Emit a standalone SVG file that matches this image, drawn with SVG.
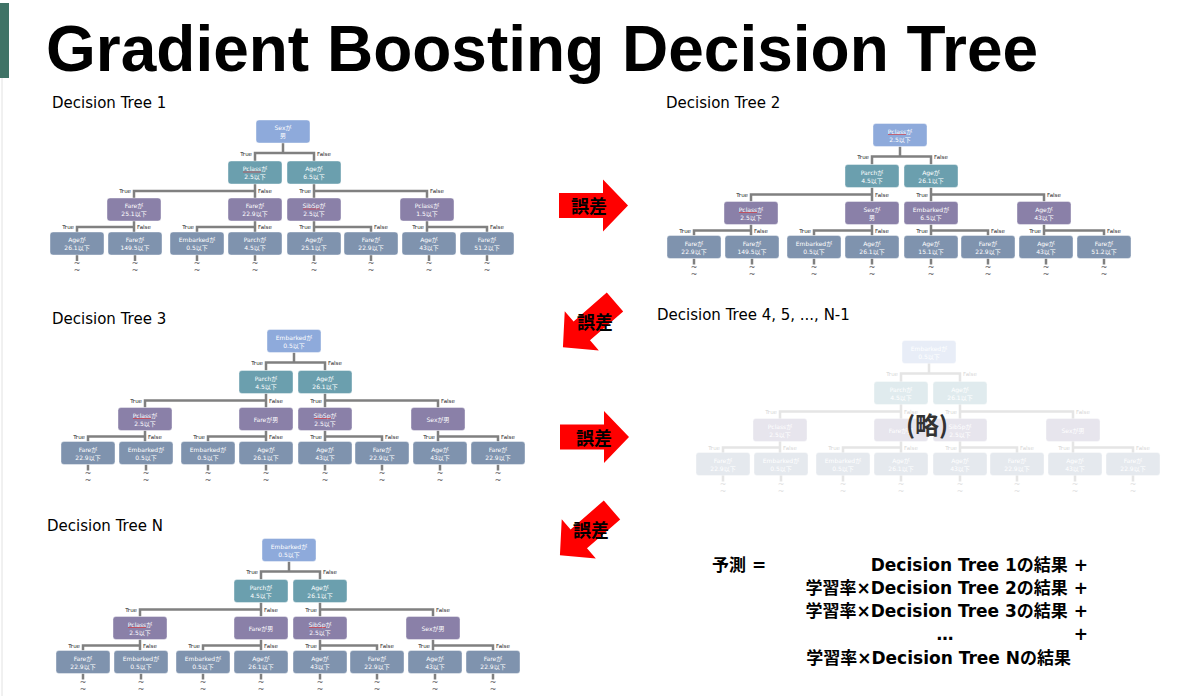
<svg xmlns="http://www.w3.org/2000/svg" xmlns:xlink="http://www.w3.org/1999/xlink" width="1183" height="696" viewBox="0 0 1183 696">
<style>
.nd rect{stroke:#ffffff;stroke-opacity:0.5;stroke-width:0.8}
.n0 rect{fill:#8eaadb}
.n1 rect{fill:#6b9fae}
.n2 rect{fill:#8a80a8}
.n3 rect{fill:#7f93ae}
.nd text{font-family:"DejaVu Sans","Noto Sans CJK JP",sans-serif;font-size:6px;fill:#ffffff;text-anchor:middle}
.cn{fill:none;stroke:#808080;stroke-width:2.5}
.lb{font-family:"DejaVu Sans",sans-serif;font-size:5.5px;fill:#222222}
.lt{text-anchor:end}
.tl{font-family:"DejaVu Sans",sans-serif;font-size:8px;fill:#555555;text-anchor:middle}
.sq{stroke:#e03030;stroke-width:0.6}
.sub{font-family:"DejaVu Sans",sans-serif;font-size:15px;fill:#000000}
.err{font-family:"Noto Sans CJK JP",sans-serif;font-size:18px;font-weight:bold;fill:#000000;text-anchor:middle}
.fm{font-family:"DejaVu Sans","Noto Sans CJK JP",sans-serif;font-size:17px;font-weight:bold;fill:#000000}
</style>
<defs>
<path id="arrow" d="M0,-12.5 H44 V-26 L69,0 L44,26 V12.5 H0 Z" fill="#ff0000"/>
<path id="links" d="M283,143V153 M255,161V153H314V161 M255,184V198 M255,191H134V198 M314,184V198 M314,191H427V198 M134,221V232 M134,227H77V232 M255,221V232 M255,227H197V232 M314,221V232 M314,227H371V232 M427,221V232 M427,227H487V232 M77,255V261 M135,255V261 M197,255V261 M255,255V261 M314,255V261 M371,255V261 M429,255V261 M487,255V261"/>
<g id="edgetext">
<text class="lb lt" x="252" y="155.5">True</text><text class="lb" x="317" y="155.5">False</text>
<text class="lb lt" x="131" y="193">True</text><text class="lb" x="258" y="193">False</text>
<text class="lb lt" x="311" y="193">True</text><text class="lb" x="430" y="193">False</text>
<text class="lb lt" x="74" y="229">True</text><text class="lb" x="137" y="229">False</text>
<text class="lb lt" x="194" y="229">True</text><text class="lb" x="258" y="229">False</text>
<text class="lb lt" x="311" y="229">True</text><text class="lb" x="374" y="229">False</text>
<text class="lb lt" x="424" y="229">True</text><text class="lb" x="490" y="229">False</text>
<g class="tl">
<text x="77" y="266">~</text><text x="77" y="273">~</text>
<text x="135" y="266">~</text><text x="135" y="273">~</text>
<text x="197" y="266">~</text><text x="197" y="273">~</text>
<text x="255" y="266">~</text><text x="255" y="273">~</text>
<text x="314" y="266">~</text><text x="314" y="273">~</text>
<text x="371" y="266">~</text><text x="371" y="273">~</text>
<text x="429" y="266">~</text><text x="429" y="273">~</text>
<text x="487" y="266">~</text><text x="487" y="273">~</text>
</g>
</g>
</defs>
<rect width="1183" height="696" fill="#ffffff"/>
<rect x="0" y="3" width="9" height="75" fill="#3f7366"/>
<line x1="2" y1="78" x2="2" y2="696" stroke="#e2e2e2" stroke-width="1"/>
<text x="46" y="71" font-family="Liberation Sans, Arial, sans-serif" font-size="64" font-weight="bold" fill="#000000">Gradient Boosting Decision Tree</text>

<text class="sub" x="52" y="108">Decision Tree 1</text>
<text class="sub" x="666" y="108">Decision Tree 2</text>
<text class="sub" x="52" y="324">Decision Tree 3</text>
<text class="sub" x="657" y="320">Decision Tree 4, 5, ..., N-1</text>
<text class="sub" x="47" y="531">Decision Tree N</text>

<g id="connectors">
<g id="c-tree1" transform="translate(0,0)"><use xlink:href="#links" class="cn"/><use xlink:href="#edgetext"/></g>
<g id="c-tree2" transform="translate(617,3.5)"><use xlink:href="#links" class="cn"/><use xlink:href="#edgetext"/></g>
<g id="c-tree3" transform="translate(11,209.5)"><use xlink:href="#links" class="cn"/><use xlink:href="#edgetext"/></g>
<g id="c-tree4" transform="translate(646,220.5)" opacity="0.2"><use xlink:href="#links" class="cn"/><use xlink:href="#edgetext"/></g>
<g id="c-treeN" transform="translate(6,418.5)"><use xlink:href="#links" class="cn"/><use xlink:href="#edgetext"/></g>
</g>

<g id="tree1" transform="translate(0,0)">
<g id="t1-root" class="nd n0"><rect x="256" y="120" width="54" height="23" rx="3"/><text x="283" y="130">Sexが</text><text x="283" y="138">男</text></g>
<g id="t1-a" class="nd n1"><rect x="228" y="161" width="54" height="23" rx="3"/><text x="255" y="171">Pclassが</text><text x="255" y="179">2.5以下</text><line class="sq" x1="243" y1="172" x2="261" y2="172"/></g>
<g id="t1-b" class="nd n1"><rect x="287" y="161" width="54" height="23" rx="3"/><text x="314" y="171">Ageが</text><text x="314" y="179">6.5以下</text></g>
<g id="t1-c1" class="nd n2"><rect x="107" y="198" width="54" height="23" rx="3"/><text x="134" y="208">Fareが</text><text x="134" y="216">25.1以下</text></g>
<g id="t1-c2" class="nd n2"><rect x="228" y="198" width="54" height="23" rx="3"/><text x="255" y="208">Fareが</text><text x="255" y="216">22.9以下</text></g>
<g id="t1-c3" class="nd n2"><rect x="287" y="198" width="54" height="23" rx="3"/><text x="314" y="208">SibSpが</text><text x="314" y="216">2.5以下</text><line class="sq" x1="303" y1="209" x2="320" y2="209"/></g>
<g id="t1-c4" class="nd n2"><rect x="400" y="198" width="54" height="23" rx="3"/><text x="427" y="208">Pclassが</text><text x="427" y="216">1.5以下</text></g>
<g id="t1-d1" class="nd n3"><rect x="50" y="232" width="54" height="23" rx="3"/><text x="77" y="242">Ageが</text><text x="77" y="250">26.1以下</text></g>
<g id="t1-d2" class="nd n3"><rect x="108" y="232" width="54" height="23" rx="3"/><text x="135" y="242">Fareが</text><text x="135" y="250">149.5以下</text></g>
<g id="t1-d3" class="nd n3"><rect x="170" y="232" width="54" height="23" rx="3"/><text x="197" y="242">Embarkedが</text><text x="197" y="250">0.5以下</text></g>
<g id="t1-d4" class="nd n3"><rect x="228" y="232" width="54" height="23" rx="3"/><text x="255" y="242">Parchが</text><text x="255" y="250">4.5以下</text></g>
<g id="t1-d5" class="nd n3"><rect x="287" y="232" width="54" height="23" rx="3"/><text x="314" y="242">Ageが</text><text x="314" y="250">25.1以下</text></g>
<g id="t1-d6" class="nd n3"><rect x="344" y="232" width="54" height="23" rx="3"/><text x="371" y="242">Fareが</text><text x="371" y="250">22.9以下</text></g>
<g id="t1-d7" class="nd n3"><rect x="402" y="232" width="54" height="23" rx="3"/><text x="429" y="242">Ageが</text><text x="429" y="250">43以下</text></g>
<g id="t1-d8" class="nd n3"><rect x="460" y="232" width="54" height="23" rx="3"/><text x="487" y="242">Fareが</text><text x="487" y="250">51.2以下</text></g>
</g>

<g id="tree2" transform="translate(617,3.5)">
<g id="t2-root" class="nd n0"><rect x="256" y="120" width="54" height="23" rx="3"/><text x="283" y="130">Pclassが</text><text x="283" y="138">2.5以下</text><line class="sq" x1="271" y1="131" x2="289" y2="131"/></g>
<g id="t2-a" class="nd n1"><rect x="228" y="161" width="54" height="23" rx="3"/><text x="255" y="171">Parchが</text><text x="255" y="179">4.5以下</text></g>
<g id="t2-b" class="nd n1"><rect x="287" y="161" width="54" height="23" rx="3"/><text x="314" y="171">Ageが</text><text x="314" y="179">26.1以下</text></g>
<g id="t2-c1" class="nd n2"><rect x="107" y="198" width="54" height="23" rx="3"/><text x="134" y="208">Pclassが</text><text x="134" y="216">2.5以下</text><line class="sq" x1="122" y1="209" x2="140" y2="209"/></g>
<g id="t2-c2" class="nd n2"><rect x="228" y="198" width="54" height="23" rx="3"/><text x="255" y="208">Sexが</text><text x="255" y="216">男</text></g>
<g id="t2-c3" class="nd n2"><rect x="287" y="198" width="54" height="23" rx="3"/><text x="314" y="208">Embarkedが</text><text x="314" y="216">6.5以下</text></g>
<g id="t2-c4" class="nd n2"><rect x="400" y="198" width="54" height="23" rx="3"/><text x="427" y="208">Ageが</text><text x="427" y="216">43以下</text></g>
<g id="t2-d1" class="nd n3"><rect x="50" y="232" width="54" height="23" rx="3"/><text x="77" y="242">Fareが</text><text x="77" y="250">22.9以下</text></g>
<g id="t2-d2" class="nd n3"><rect x="108" y="232" width="54" height="23" rx="3"/><text x="135" y="242">Fareが</text><text x="135" y="250">149.5以下</text></g>
<g id="t2-d3" class="nd n3"><rect x="170" y="232" width="54" height="23" rx="3"/><text x="197" y="242">Embarkedが</text><text x="197" y="250">0.5以下</text></g>
<g id="t2-d4" class="nd n3"><rect x="228" y="232" width="54" height="23" rx="3"/><text x="255" y="242">Ageが</text><text x="255" y="250">26.1以下</text></g>
<g id="t2-d5" class="nd n3"><rect x="287" y="232" width="54" height="23" rx="3"/><text x="314" y="242">Ageが</text><text x="314" y="250">15.1以下</text></g>
<g id="t2-d6" class="nd n3"><rect x="344" y="232" width="54" height="23" rx="3"/><text x="371" y="242">Fareが</text><text x="371" y="250">22.9以下</text></g>
<g id="t2-d7" class="nd n3"><rect x="402" y="232" width="54" height="23" rx="3"/><text x="429" y="242">Ageが</text><text x="429" y="250">43以下</text></g>
<g id="t2-d8" class="nd n3"><rect x="460" y="232" width="54" height="23" rx="3"/><text x="487" y="242">Fareが</text><text x="487" y="250">51.2以下</text></g>
</g>

<g id="tree3" transform="translate(11,209.5)">
<g id="t3-root" class="nd n0"><rect x="256" y="120" width="54" height="23" rx="3"/><text x="283" y="130">Embarkedが</text><text x="283" y="138">0.5以下</text></g>
<g id="t3-a" class="nd n1"><rect x="228" y="161" width="54" height="23" rx="3"/><text x="255" y="171">Parchが</text><text x="255" y="179">4.5以下</text></g>
<g id="t3-b" class="nd n1"><rect x="287" y="161" width="54" height="23" rx="3"/><text x="314" y="171">Ageが</text><text x="314" y="179">26.1以下</text></g>
<g id="t3-c1" class="nd n2"><rect x="107" y="198" width="54" height="23" rx="3"/><text x="134" y="208">Pclassが</text><text x="134" y="216">2.5以下</text><line class="sq" x1="122" y1="209" x2="140" y2="209"/></g>
<g id="t3-c2" class="nd n2"><rect x="228" y="198" width="54" height="23" rx="3"/><text x="255" y="212">Fareが男</text></g>
<g id="t3-c3" class="nd n2"><rect x="287" y="198" width="54" height="23" rx="3"/><text x="314" y="208">SibSpが</text><text x="314" y="216">2.5以下</text><line class="sq" x1="303" y1="209" x2="320" y2="209"/></g>
<g id="t3-c4" class="nd n2"><rect x="400" y="198" width="54" height="23" rx="3"/><text x="427" y="212">Sexが男</text></g>
<g id="t3-d1" class="nd n3"><rect x="50" y="232" width="54" height="23" rx="3"/><text x="77" y="242">Fareが</text><text x="77" y="250">22.9以下</text></g>
<g id="t3-d2" class="nd n3"><rect x="108" y="232" width="54" height="23" rx="3"/><text x="135" y="242">Embarkedが</text><text x="135" y="250">0.5以下</text></g>
<g id="t3-d3" class="nd n3"><rect x="170" y="232" width="54" height="23" rx="3"/><text x="197" y="242">Embarkedが</text><text x="197" y="250">0.5以下</text></g>
<g id="t3-d4" class="nd n3"><rect x="228" y="232" width="54" height="23" rx="3"/><text x="255" y="242">Ageが</text><text x="255" y="250">26.1以下</text></g>
<g id="t3-d5" class="nd n3"><rect x="287" y="232" width="54" height="23" rx="3"/><text x="314" y="242">Ageが</text><text x="314" y="250">43以下</text></g>
<g id="t3-d6" class="nd n3"><rect x="344" y="232" width="54" height="23" rx="3"/><text x="371" y="242">Fareが</text><text x="371" y="250">22.9以下</text></g>
<g id="t3-d7" class="nd n3"><rect x="402" y="232" width="54" height="23" rx="3"/><text x="429" y="242">Ageが</text><text x="429" y="250">43以下</text></g>
<g id="t3-d8" class="nd n3"><rect x="460" y="232" width="54" height="23" rx="3"/><text x="487" y="242">Fareが</text><text x="487" y="250">22.9以下</text></g>
</g>

<g id="tree4" transform="translate(646,220.5)" opacity="0.2">
<g id="t4-root" class="nd n0"><rect x="256" y="120" width="54" height="23" rx="3"/><text x="283" y="130">Embarkedが</text><text x="283" y="138">0.5以下</text></g>
<g id="t4-a" class="nd n1"><rect x="228" y="161" width="54" height="23" rx="3"/><text x="255" y="171">Parchが</text><text x="255" y="179">4.5以下</text></g>
<g id="t4-b" class="nd n1"><rect x="287" y="161" width="54" height="23" rx="3"/><text x="314" y="171">Ageが</text><text x="314" y="179">26.1以下</text></g>
<g id="t4-c1" class="nd n2"><rect x="107" y="198" width="54" height="23" rx="3"/><text x="134" y="208">Pclassが</text><text x="134" y="216">2.5以下</text></g>
<g id="t4-c2" class="nd n2"><rect x="228" y="198" width="54" height="23" rx="3"/><text x="255" y="212">Fareが男</text></g>
<g id="t4-c3" class="nd n2"><rect x="287" y="198" width="54" height="23" rx="3"/><text x="314" y="208">SibSpが</text><text x="314" y="216">2.5以下</text></g>
<g id="t4-c4" class="nd n2"><rect x="400" y="198" width="54" height="23" rx="3"/><text x="427" y="212">Sexが男</text></g>
<g id="t4-d1" class="nd n3"><rect x="50" y="232" width="54" height="23" rx="3"/><text x="77" y="242">Fareが</text><text x="77" y="250">22.9以下</text></g>
<g id="t4-d2" class="nd n3"><rect x="108" y="232" width="54" height="23" rx="3"/><text x="135" y="242">Embarkedが</text><text x="135" y="250">0.5以下</text></g>
<g id="t4-d3" class="nd n3"><rect x="170" y="232" width="54" height="23" rx="3"/><text x="197" y="242">Embarkedが</text><text x="197" y="250">0.5以下</text></g>
<g id="t4-d4" class="nd n3"><rect x="228" y="232" width="54" height="23" rx="3"/><text x="255" y="242">Ageが</text><text x="255" y="250">26.1以下</text></g>
<g id="t4-d5" class="nd n3"><rect x="287" y="232" width="54" height="23" rx="3"/><text x="314" y="242">Ageが</text><text x="314" y="250">43以下</text></g>
<g id="t4-d6" class="nd n3"><rect x="344" y="232" width="54" height="23" rx="3"/><text x="371" y="242">Fareが</text><text x="371" y="250">22.9以下</text></g>
<g id="t4-d7" class="nd n3"><rect x="402" y="232" width="54" height="23" rx="3"/><text x="429" y="242">Ageが</text><text x="429" y="250">43以下</text></g>
<g id="t4-d8" class="nd n3"><rect x="460" y="232" width="54" height="23" rx="3"/><text x="487" y="242">Fareが</text><text x="487" y="250">22.9以下</text></g>
</g>
<text id="omitted" x="927" y="434" font-family="Noto Sans CJK JP, sans-serif" font-size="24" font-weight="bold" fill="#333333" text-anchor="middle">(略)</text>

<g id="treeN" transform="translate(6,418.5)">
<g id="tN-root" class="nd n0"><rect x="256" y="120" width="54" height="23" rx="3"/><text x="283" y="130">Embarkedが</text><text x="283" y="138">0.5以下</text></g>
<g id="tN-a" class="nd n1"><rect x="228" y="161" width="54" height="23" rx="3"/><text x="255" y="171">Parchが</text><text x="255" y="179">4.5以下</text></g>
<g id="tN-b" class="nd n1"><rect x="287" y="161" width="54" height="23" rx="3"/><text x="314" y="171">Ageが</text><text x="314" y="179">26.1以下</text></g>
<g id="tN-c1" class="nd n2"><rect x="107" y="198" width="54" height="23" rx="3"/><text x="134" y="208">Pclassが</text><text x="134" y="216">2.5以下</text><line class="sq" x1="122" y1="209" x2="140" y2="209"/></g>
<g id="tN-c2" class="nd n2"><rect x="228" y="198" width="54" height="23" rx="3"/><text x="255" y="212">Fareが男</text></g>
<g id="tN-c3" class="nd n2"><rect x="287" y="198" width="54" height="23" rx="3"/><text x="314" y="208">SibSpが</text><text x="314" y="216">2.5以下</text><line class="sq" x1="303" y1="209" x2="320" y2="209"/></g>
<g id="tN-c4" class="nd n2"><rect x="400" y="198" width="54" height="23" rx="3"/><text x="427" y="212">Sexが男</text></g>
<g id="tN-d1" class="nd n3"><rect x="50" y="232" width="54" height="23" rx="3"/><text x="77" y="242">Fareが</text><text x="77" y="250">22.9以下</text></g>
<g id="tN-d2" class="nd n3"><rect x="108" y="232" width="54" height="23" rx="3"/><text x="135" y="242">Embarkedが</text><text x="135" y="250">0.5以下</text></g>
<g id="tN-d3" class="nd n3"><rect x="170" y="232" width="54" height="23" rx="3"/><text x="197" y="242">Embarkedが</text><text x="197" y="250">0.5以下</text></g>
<g id="tN-d4" class="nd n3"><rect x="228" y="232" width="54" height="23" rx="3"/><text x="255" y="242">Ageが</text><text x="255" y="250">26.1以下</text></g>
<g id="tN-d5" class="nd n3"><rect x="287" y="232" width="54" height="23" rx="3"/><text x="314" y="242">Ageが</text><text x="314" y="250">43以下</text></g>
<g id="tN-d6" class="nd n3"><rect x="344" y="232" width="54" height="23" rx="3"/><text x="371" y="242">Fareが</text><text x="371" y="250">22.9以下</text></g>
<g id="tN-d7" class="nd n3"><rect x="402" y="232" width="54" height="23" rx="3"/><text x="429" y="242">Ageが</text><text x="429" y="250">43以下</text></g>
<g id="tN-d8" class="nd n3"><rect x="460" y="232" width="54" height="23" rx="3"/><text x="487" y="242">Fareが</text><text x="487" y="250">22.9以下</text></g>
</g>

<g id="error-arrows">
<g id="err1"><use xlink:href="#arrow" transform="translate(559,205.5)"/><text class="err" x="589" y="213">誤差</text></g>
<g id="err2"><use xlink:href="#arrow" transform="translate(615,302) rotate(139)"/><text class="err" x="595" y="329">誤差</text></g>
<g id="err3"><use xlink:href="#arrow" transform="translate(560,437)"/><text class="err" x="594" y="445">誤差</text></g>
<g id="err4"><use xlink:href="#arrow" transform="translate(612,510) rotate(139)"/><text class="err" x="591" y="537">誤差</text></g>
</g>

<g id="formula" class="fm">
<text x="712" y="571">予測 =</text>
<text x="1088" y="571" text-anchor="end">Decision Tree 1の結果 +</text>
<text x="1088" y="594" text-anchor="end">学習率×Decision Tree 2の結果 +</text>
<text x="1088" y="617" text-anchor="end">学習率×Decision Tree 3の結果 +</text>
<text x="945" y="640" text-anchor="middle">…</text>
<text x="1088" y="640" text-anchor="end">+</text>
<text x="1071" y="664" text-anchor="end">学習率×Decision Tree Nの結果</text>
</g>
</svg>
